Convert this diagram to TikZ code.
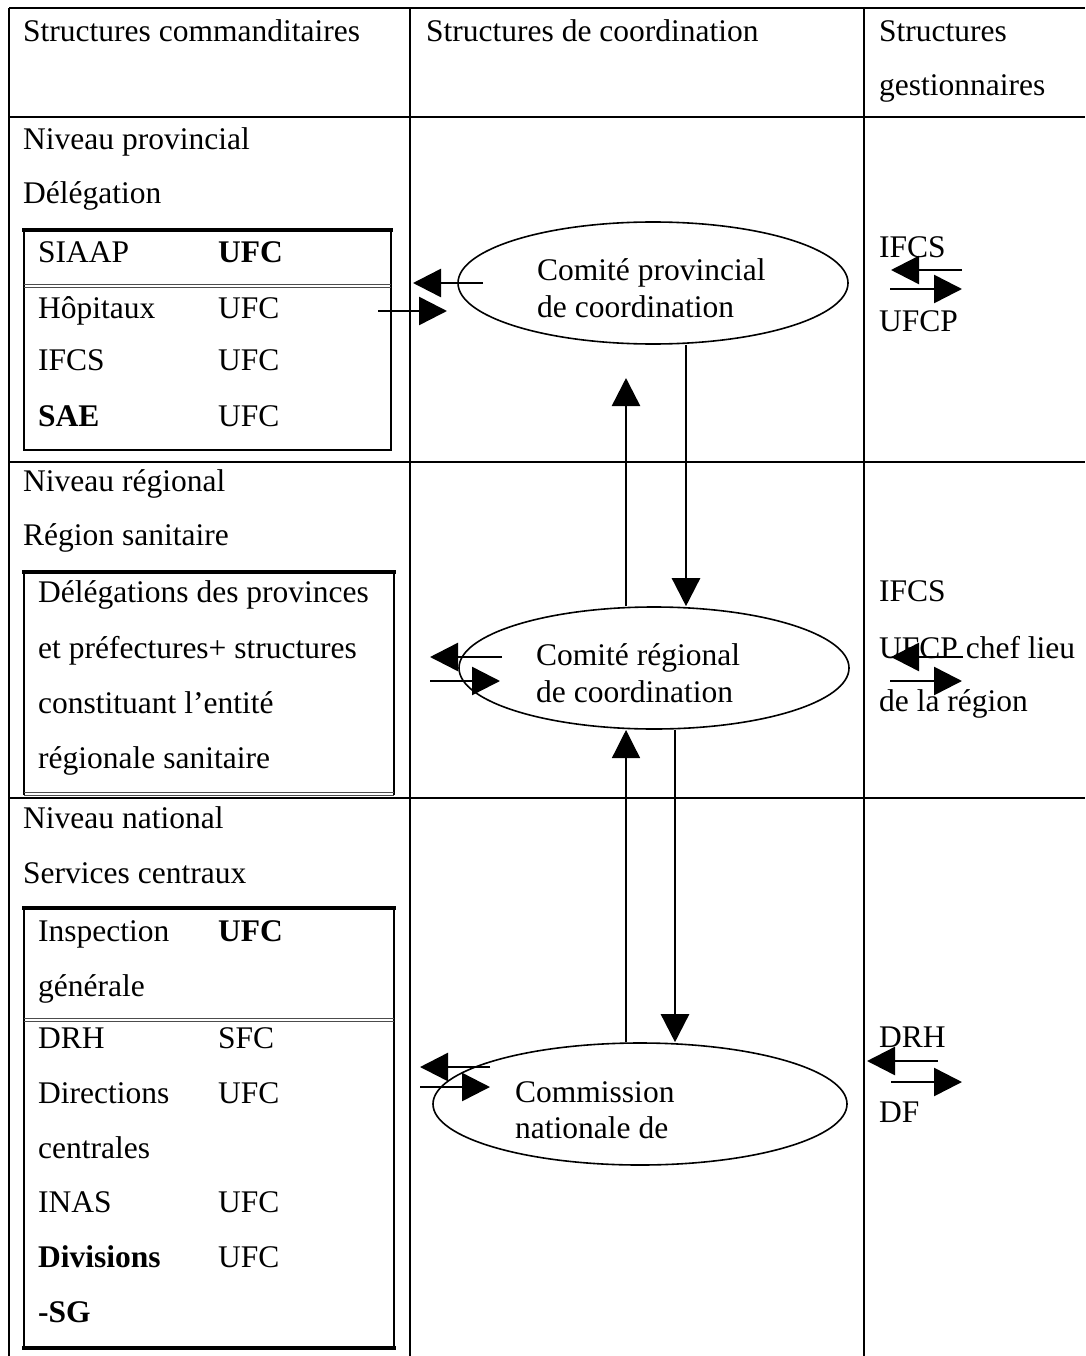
\documentclass[tikz,border=0pt]{standalone}
\usepackage{fontspec}
\setmainfont{Liberation Serif}
\usetikzlibrary{arrows.meta,shapes.geometric}
\begin{document}
\begin{tikzpicture}[x=1pt,y=-1pt,
 txt/.style={anchor=base west, inner sep=0pt, font=\fontsize{31.5}{38}\selectfont},
 btxt/.style={anchor=base west, inner sep=0pt, font=\fontsize{31.5}{38}\selectfont\bfseries},
 grid/.style={line width=1.5pt},
 boxline/.style={line width=2.5pt},
 dbl/.style={line width=0.9pt, black!70},
 ell/.style={draw, ellipse, line width=1.6pt, inner sep=0pt},
 arr/.style={line width=2.5pt, -{Triangle[length=28pt,width=28pt]}},
 arrthin/.style={line width=1.3pt, -{Triangle[length=28pt,width=28pt]}}
]
\useasboundingbox (0,0) rectangle (1085,1356);
\fill[white] (0,0) rectangle (1085,1356);
% table grid
\draw[grid] (9,8) -- (1085,8);
\draw[grid] (9,117) -- (1085,117);
\draw[grid] (9,462) -- (1085,462);
\draw[grid] (9,798) -- (1085,798);
\draw[grid] (9,8) -- (9,1356);
\draw[grid] (410,8) -- (410,1356);
\draw[grid] (864,8) -- (864,1356);
% header
\node[txt] (h1) at (23,42) {Structures commanditaires};
\node[txt] (h2) at (426,42) {Structures de coordination};
\node[txt] (h3a) at (879,42) {Structures};
\node[txt] (h3b) at (879,96) {gestionnaires};
% provincial level
\node[txt] (p1) at (23,150) {Niveau provincial};
\node[txt] (p2) at (23,204) {Délégation};
\draw[boxline] (24,230) rectangle (391,450);
\draw[line width=4pt] (22,230) -- (393,230);
\draw[dbl] (24,284) -- (391,284) (24,287) -- (391,287);
\node[txt]  (pa1) at (38,262) {SIAAP};
\node[btxt] (pa2) at (218,262) {UFC};
\node[txt]  (pb1) at (38,318) {Hôpitaux};
\node[txt]  (pb2) at (218,318) {UFC};
\node[txt]  (pc1) at (38,370) {IFCS};
\node[txt]  (pc2) at (218,370) {UFC};
\node[btxt] (pd1) at (38,426) {SAE};
\node[txt]  (pd2) at (218,426) {UFC};
% regional level
\node[txt] (r1) at (23,491) {Niveau régional};
\node[txt] (r2) at (23,545) {Région sanitaire};
\draw[boxline] (24,795) -- (24,572) -- (394,572) -- (394,795);
\draw[line width=4pt] (22,572) -- (396,572);
\draw[dbl] (24,792) -- (394,792) (24,795) -- (394,795);
\node[txt] (ra) at (38,602) {Délégations des provinces};
\node[txt] (rb) at (38,658) {et préfectures+ structures};
\node[txt] (rc) at (38,713) {constituant l’entité};
\node[txt] (rd) at (38,768) {régionale sanitaire};
% national level
\node[txt] (n1) at (23,828) {Niveau national};
\node[txt] (n2) at (23,883) {Services centraux};
\draw[boxline] (24,908) rectangle (394,1348);
\draw[line width=4pt] (22,908) -- (396,908);
\draw[line width=4pt] (22,1348) -- (396,1348);
\draw[dbl] (24,1018) -- (394,1018) (24,1021) -- (394,1021);
\node[txt]  (na1) at (38,941) {Inspection};
\node[btxt] (na2) at (218,941) {UFC};
\node[txt]  (na3) at (38,996) {générale};
\node[txt]  (nb1) at (38,1048) {DRH};
\node[txt]  (nb2) at (218,1048) {SFC};
\node[txt]  (nc1) at (38,1103) {Directions};
\node[txt]  (nc2) at (218,1103) {UFC};
\node[txt]  (nc3) at (38,1158) {centrales};
\node[txt]  (nd1) at (38,1212) {INAS};
\node[txt]  (nd2) at (218,1212) {UFC};
\node[btxt] (ne1) at (38,1267) {Divisions};
\node[txt]  (ne2) at (218,1267) {UFC};
\node[btxt] (ne3) at (38,1322) {-SG};
% ellipses
\node[ell, minimum width=390pt, minimum height=122pt] (prov) at (653,283) {};
\node[txt] (provt1) at (537,280) {Comité provincial};
\node[txt] (provt2) at (537,317) {de coordination};
\node[ell, minimum width=390pt, minimum height=122pt] (reg) at (654,668) {};
\node[txt] (regt1) at (536,665) {Comité régional};
\node[txt] (regt2) at (536,702) {de coordination};
\node[ell, minimum width=414pt, minimum height=122pt] (nat) at (640,1104) {};
\node[txt] (natt1) at (515,1102) {Commission};
\node[txt] (natt2) at (515,1138) {nationale de};
% right column
\node[txt] (g1a) at (879,258) {IFCS};
\node[txt] (g1b) at (879,331) {UFCP};
\node[txt] (g2a) at (879,601) {IFCS};
\node[txt] (g2b) at (879,658) {UFCP chef lieu};
\node[txt] (g2c) at (879,711) {de la région};
\node[txt] (g3a) at (879,1047) {DRH};
\node[txt] (g3b) at (879,1122) {DF};
% coordinates for free arrow ends
\coordinate (pL1) at (483,283); \coordinate (pL2) at (413,283);
\coordinate (pR1) at (378,311); \coordinate (pR2) at (447,311);
\coordinate (rL1) at (502,657); \coordinate (rL2) at (430,657);
\coordinate (rR1) at (430,681); \coordinate (rR2) at (500,681);
\coordinate (nL1) at (490,1067); \coordinate (nL2) at (420,1067);
\coordinate (nR1) at (420,1087); \coordinate (nR2) at (490,1087);
\coordinate (upA) at (626,378);
\coordinate (dnA) at (686,0);
\coordinate (upB) at (626,730);
\coordinate (dnB) at (675,0);
\coordinate (gA1) at (962,270); \coordinate (gA2) at (891,270);
\coordinate (gA3) at (890,289); \coordinate (gA4) at (962,289);
\coordinate (gB1) at (963,657); \coordinate (gB2) at (891,657);
\coordinate (gB3) at (890,681); \coordinate (gB4) at (962,681);
\coordinate (gC1) at (938,1061); \coordinate (gC2) at (867,1061);
\coordinate (gC3) at (891,1082); \coordinate (gC4) at (962,1082);
% horizontal arrows
\draw[arr] (pL1) -- (pL2);
\draw[arr] (pR1) -- (pR2);
\draw[arr] (rL1) -- (rL2);
\draw[arr] (rR1) -- (rR2);
\draw[arr] (nL1) -- (nL2);
\draw[arr] (nR1) -- (nR2);
\draw[arr] (gA1) -- (gA2);
\draw[arr] (gA3) -- (gA4);
\draw[arr] (gB1) -- (gB2);
\draw[arr] (gB3) -- (gB4);
\draw[arr] (gC1) -- (gC2);
\draw[arr] (gC3) -- (gC4);
% vertical arrows
\draw[arr] (reg.north -| upA) -- (upA);
\draw[arr] (prov.south -| dnA) -- (reg.north -| dnA);
\draw[arrthin] (nat.north -| upB) -- (upB);
\draw[arr] (reg.south -| dnB) -- (nat.north -| dnB);
\end{tikzpicture}
\end{document}
